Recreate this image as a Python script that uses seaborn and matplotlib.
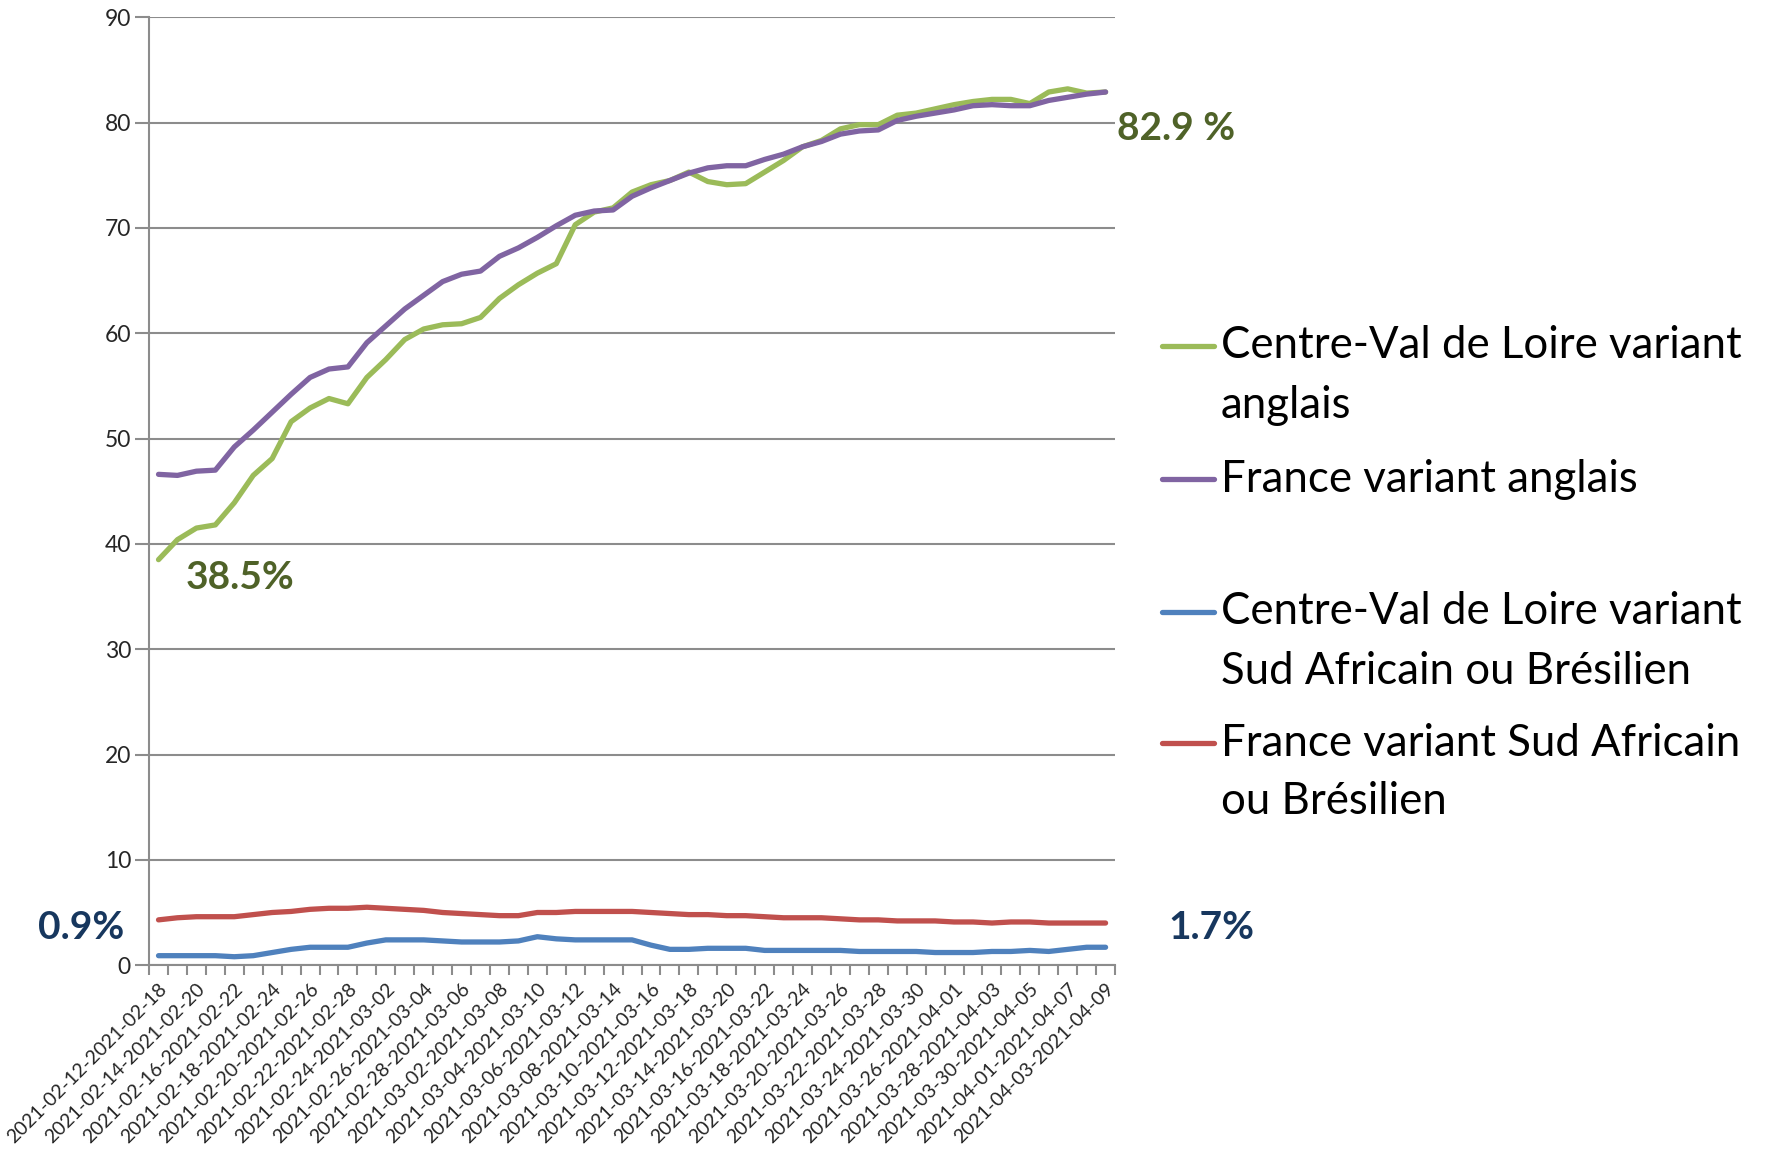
import matplotlib
matplotlib.use("Agg")
import matplotlib.pyplot as plt
import seaborn as sns
import pandas as pd
from matplotlib.lines import Line2D

periods = [
    "2021-02-12-2021-02-18", "2021-02-13-2021-02-19", "2021-02-14-2021-02-20",
    "2021-02-15-2021-02-21", "2021-02-16-2021-02-22", "2021-02-17-2021-02-23",
    "2021-02-18-2021-02-24", "2021-02-19-2021-02-25", "2021-02-20-2021-02-26",
    "2021-02-21-2021-02-27", "2021-02-22-2021-02-28", "2021-02-23-2021-03-01",
    "2021-02-24-2021-03-02", "2021-02-25-2021-03-03", "2021-02-26-2021-03-04",
    "2021-02-27-2021-03-05", "2021-02-28-2021-03-06", "2021-03-01-2021-03-07",
    "2021-03-02-2021-03-08", "2021-03-03-2021-03-09", "2021-03-04-2021-03-10",
    "2021-03-05-2021-03-11", "2021-03-06-2021-03-12", "2021-03-07-2021-03-13",
    "2021-03-08-2021-03-14", "2021-03-09-2021-03-15", "2021-03-10-2021-03-16",
    "2021-03-11-2021-03-17", "2021-03-12-2021-03-18", "2021-03-13-2021-03-19",
    "2021-03-14-2021-03-20", "2021-03-15-2021-03-21", "2021-03-16-2021-03-22",
    "2021-03-17-2021-03-23", "2021-03-18-2021-03-24", "2021-03-19-2021-03-25",
    "2021-03-20-2021-03-26", "2021-03-21-2021-03-27", "2021-03-22-2021-03-28",
    "2021-03-23-2021-03-29", "2021-03-24-2021-03-30", "2021-03-25-2021-03-31",
    "2021-03-26-2021-04-01", "2021-03-27-2021-04-02", "2021-03-28-2021-04-03",
    "2021-03-29-2021-04-04", "2021-03-30-2021-04-05", "2021-03-31-2021-04-06",
    "2021-04-01-2021-04-07", "2021-04-02-2021-04-08", "2021-04-03-2021-04-09",
]

cvl_anglais = [38.5, 40.4, 41.5, 41.8, 43.9, 46.5, 48.1, 51.6, 52.9, 53.8,
               53.3, 55.8, 57.5, 59.4, 60.4, 60.8, 60.9, 61.5, 63.3, 64.6,
               65.7, 66.6, 70.3, 71.5, 71.9, 73.4, 74.1, 74.5, 75.3, 74.4,
               74.1, 74.2, 75.3, 76.4, 77.7, 78.3, 79.4, 79.8, 79.8, 80.7,
               80.9, 81.3, 81.7, 82.0, 82.2, 82.2, 81.8, 82.9, 83.2, 82.8,
               82.9]
fr_anglais = [46.6, 46.5, 46.9, 47.0, 49.2, 50.8, 52.5, 54.2, 55.8, 56.6,
              56.8, 59.1, 60.7, 62.3, 63.6, 64.9, 65.6, 65.9, 67.3, 68.1,
              69.1, 70.2, 71.2, 71.6, 71.7, 73.0, 73.8, 74.5, 75.2, 75.7,
              75.9, 75.9, 76.5, 77.0, 77.7, 78.2, 78.9, 79.2, 79.3, 80.2,
              80.6, 80.9, 81.2, 81.6, 81.7, 81.6, 81.6, 82.1, 82.4, 82.7,
              82.9]
cvl_sa_br = [0.9, 0.9, 0.9, 0.9, 0.8, 0.9, 1.2, 1.5, 1.7, 1.7,
             1.7, 2.1, 2.4, 2.4, 2.4, 2.3, 2.2, 2.2, 2.2, 2.3,
             2.7, 2.5, 2.4, 2.4, 2.4, 2.4, 1.9, 1.5, 1.5, 1.6,
             1.6, 1.6, 1.4, 1.4, 1.4, 1.4, 1.4, 1.3, 1.3, 1.3,
             1.3, 1.2, 1.2, 1.2, 1.3, 1.3, 1.4, 1.3, 1.5, 1.7,
             1.7]
fr_sa_br = [4.3, 4.5, 4.6, 4.6, 4.6, 4.8, 5.0, 5.1, 5.3, 5.4,
            5.4, 5.5, 5.4, 5.3, 5.2, 5.0, 4.9, 4.8, 4.7, 4.7,
            5.0, 5.0, 5.1, 5.1, 5.1, 5.1, 5.0, 4.9, 4.8, 4.8,
            4.7, 4.7, 4.6, 4.5, 4.5, 4.5, 4.4, 4.3, 4.3, 4.2,
            4.2, 4.2, 4.1, 4.1, 4.0, 4.1, 4.1, 4.0, 4.0, 4.0,
            4.0]

series_names = [
    "Centre-Val de Loire variant\nanglais",
    "France variant anglais",
    "Centre-Val de Loire variant\nSud Africain ou Brésilien",
    "France variant Sud Africain\nou Brésilien",
]
series_values = [cvl_anglais, fr_anglais, cvl_sa_br, fr_sa_br]
colors = ["#9BBB59", "#8064A2", "#4F81BD", "#C0504D"]

annotations = [("38.5%", 1.45, 36.8, "#4F6228"),
               ("82.9 %", 50.6, 79.4, "#4F6228"),
               ("0.9%", -6.35, 3.6, "#17375E"),
               ("1.7%", 53.3, 3.6, "#17375E")]

rows = []
for name, vals in zip(series_names, series_values):
    for i, v in enumerate(vals):
        rows.append({"idx": i, "value": v, "series": name})
df = pd.DataFrame(rows)

sns.set_style("white")
plt.rcParams["font.family"] = ["Lato", "DejaVu Sans"]

fig = plt.figure(figsize=(17.66, 11.49), dpi=100)
ax = fig.add_axes([0.0844, 0.160, 0.5470, 0.825])

sns.lineplot(data=df, x="idx", y="value", hue="series", hue_order=series_names,
             palette=colors, linewidth=3.8, sort=False, legend=False, ax=ax)
for ln in ax.lines:
    ln.set_solid_capstyle("round")
    ln.set_solid_joinstyle("round")

n = len(periods)
ax.set_xlim(-0.5, n - 0.5)
ax.set_ylim(0, 90)
ax.set_yticks(range(0, 91, 10))
ax.yaxis.grid(True, color="#8C8C8C", linewidth=1.5)
ax.xaxis.grid(False)
ax.set_axisbelow(True)

# category boundary ticks
ax.set_xticks([i - 0.5 for i in range(n + 1)])
ax.set_xticklabels([])
ax.set_xticks(list(range(0, n, 2)), minor=True)
ax.set_xticklabels([periods[i] for i in range(0, n, 2)], minor=True,
                   rotation=45, ha="right", va="top", rotation_mode="anchor",
                   fontsize=14)
ax.tick_params(axis="x", which="major", direction="out", length=7, width=1.5,
               color="#8C8C8C", bottom=True)
ax.tick_params(axis="x", which="minor", length=0, pad=11)
ax.tick_params(axis="y", direction="out", length=10, width=1.5, color="#8C8C8C",
               left=True, labelsize=16.5, pad=3)
ax.set_xlabel("")
ax.set_ylabel("")
for s in ["top", "right"]:
    ax.spines[s].set_visible(False)
for s in ["left", "bottom"]:
    ax.spines[s].set_color("#8C8C8C")
    ax.spines[s].set_linewidth(1.5)

for txt, x, y, c in annotations:
    ax.text(x, y, txt, color=c, fontsize=28, fontweight="bold",
            ha="left", va="center", clip_on=False)

# legend (manual, Excel-like): handle aligned with the first text line
W, H = 1766.0, 1149.0
legend_entries = [(series_names[0], colors[0], 346),
                  (series_names[1], colors[1], 479),
                  (series_names[2], colors[2], 612),
                  (series_names[3], colors[3], 743)]
line_step = 59
for label, c, ypx in legend_entries:
    yf = 1 - ypx / H
    fig.add_artist(Line2D([1162 / W, 1214 / W], [yf, yf], color=c,
                          linewidth=3.8, transform=fig.transFigure))
    for k, part in enumerate(label.split("\n")):
        fig.text(1221 / W, 1 - (ypx + k * line_step) / H, part, fontsize=31.5,
                 color="black", ha="left", va="center")

fig.savefig("out.png", dpi=100)
